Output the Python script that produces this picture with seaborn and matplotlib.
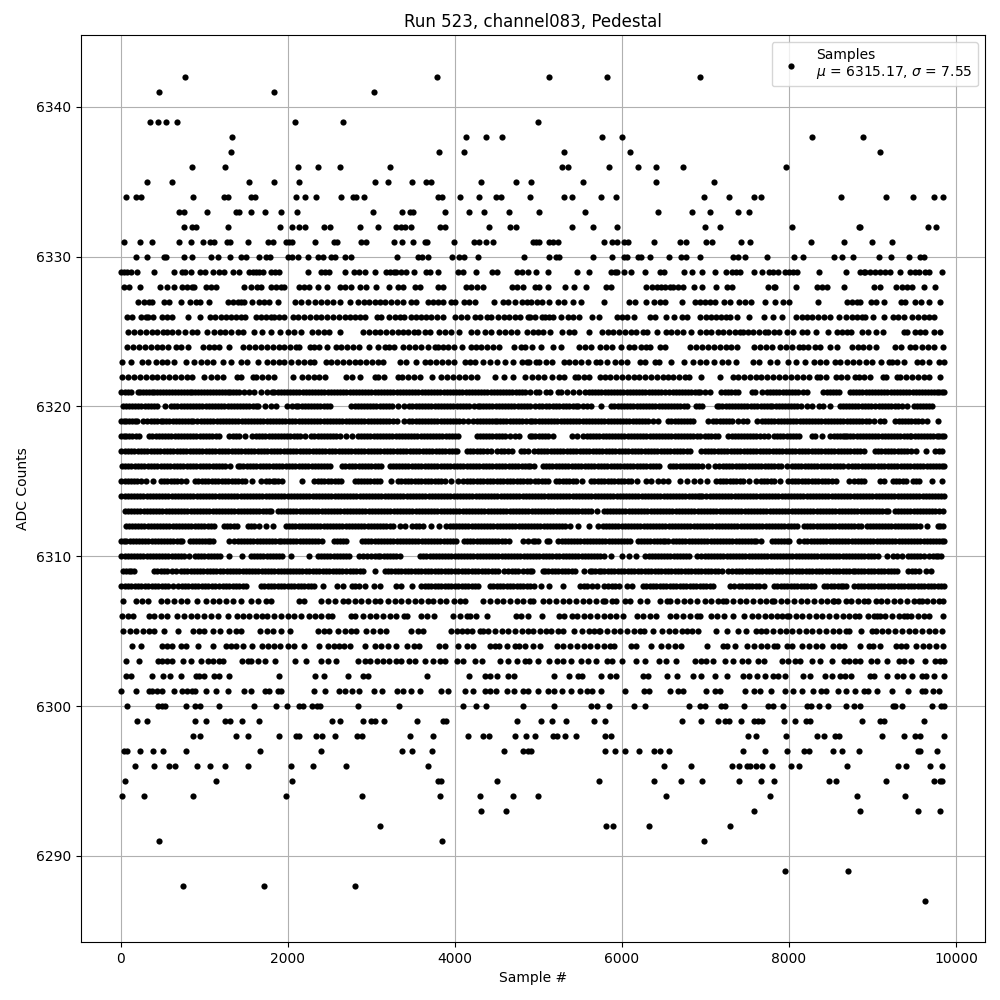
import matplotlib
matplotlib.use("Agg")
import matplotlib.pyplot as plt
import pandas as pd
import seaborn as sns

title = "Run 523, channel083, Pedestal"
x_label = "Sample #"
y_label = "ADC Counts"
legend_label = "Samples\n$\\mu$ = 6315.17, $\\sigma$ = 7.55"

# Sample numbers, one list per ADC level
s6342 = [776, 3788, 5124, 5820, 6936]
s6341 = [464, 1832, 3032]
s6339 = [356, 452, 548, 680, 2084, 2660, 4992]
s6338 = [1328, 4136, 4376, 4568, 5760, 6000, 8280, 8880]
s6337 = [1316, 3812, 4112, 5304, 6096, 9084]
s6336 = [860, 1244, 2120, 2360, 2624, 3224, 5280, 5352, 5844, 6192, 6408, 6732, 7968]
s6335 = [320, 620, 1532, 1832, 2132, 3044, 3200, 3488, 3656, 3716, 4316, 4736, 4912, 5532, 6408, 7104]
s6334 = [60, 184, 240, 872, 1240, 1288, 1560, 1612, 2096, 2204, 2336, 2636, 2780, 2812, 2912, 3804, 3844, 4064, 4292, 4492, 4552, 4900, 5304, 5400, 5748, 5928, 6984, 7284, 7584, 7668, 8616, 9156, 9480, 9732, 9840]
s6333 = [704, 756, 1028, 1380, 1412, 1564, 1724, 1916, 2108, 3020, 3368, 3460, 3500, 3884, 4172, 4352, 4652, 5004, 5556, 6432, 6840, 7056, 7392, 7524]
s6332 = [764, 852, 900, 1280, 1912, 2048, 2140, 2208, 2432, 2504, 2864, 3080, 3300, 3360, 3400, 3476, 3820, 3884, 4412, 4664, 4732, 5400, 5652, 5940, 6996, 7176, 8040, 8832, 8852, 9660, 9756]
s6331 = [40, 236, 380, 704, 840, 992, 1068, 1120, 1272, 1312, 1520, 1764, 1824, 1980, 2020, 2052, 2324, 2552, 2592, 2880, 2936, 3272, 3368, 3500, 3640, 3668, 3992, 4232, 4292, 4368, 4460, 4940, 4972, 5012, 5124, 5180, 5232, 5784, 5880, 5940, 6020, 6068, 6380, 6696, 6772, 7008, 7080, 7428, 7536, 8268, 8652, 8988, 9228]
s6330 = [180, 320, 520, 540, 764, 860, 1076, 1160, 1308, 1436, 1500, 1652, 1740, 1792, 2000, 2052, 2124, 2240, 2360, 2428, 2520, 2560, 2684, 2756, 3308, 3560, 3612, 3680, 3968, 4052, 4108, 4280, 4832, 5124, 5212, 5252, 5652, 5880, 6020, 6060, 6188, 6228, 6336, 6564, 6708, 6772, 6936, 7332, 7384, 7476, 7740, 8064, 8172, 8532, 8628, 8760, 9072, 9216, 9432, 9564, 9612]
s6329 = [0, 40, 80, 120, 200, 404, 644, 732, 772, 840, 948, 1012, 1100, 1172, 1232, 1340, 1420, 1532, 1580, 1620, 1660, 1708, 1800, 1850, 1900, 2248, 2400, 2450, 2500, 2684, 2788, 2850, 2924, 3044, 3172, 3220, 3270, 3300, 3360, 3420, 3512, 3660, 3708, 3804, 4040, 4100, 4256, 4440, 4500, 4740, 4800, 4880, 4968, 5112, 5464, 5604, 5872, 5920, 5940, 6024, 6108, 6276, 6452, 6500, 6744, 6840, 6960, 7112, 7248, 7316, 7370, 7412, 7584, 7680, 7764, 7812, 7872, 7952, 8000, 8052, 8100, 8364, 8684, 8852, 8892, 8912, 8972, 9032, 9092, 9152, 9212, 9324, 9452, 9512, 9552, 9632, 9672, 9828]
s6328 = [40, 100, 228, 476, 560, 644, 732, 790, 850, 880, 1020, 1080, 1140, 1472, 1564, 1628, 1680, 1800, 1860, 1920, 1960, 2132, 2200, 2260, 2360, 2468, 2620, 2680, 2760, 2860, 2932, 3056, 3212, 3320, 3380, 3520, 3588, 3800, 3860, 4128, 4190, 4260, 4340, 4680, 4740, 4820, 4964, 5012, 5112, 5316, 5424, 5564, 5812, 5872, 6292, 6360, 6420, 6472, 6512, 6580, 6612, 6672, 6732, 6864, 6956, 7128, 7252, 7316, 7752, 7820, 7832, 8088, 8332, 8392, 8452, 8652, 9012, 9092, 9276, 9352, 9412, 9472, 9612, 9744]
s6327 = [212, 280, 340, 380, 520, 580, 728, 828, 908, 948, 1060, 1280, 1340, 1400, 1440, 1472, 1572, 1652, 1720, 1780, 1880, 2084, 2160, 2240, 2332, 2400, 2470, 2540, 2628, 2748, 2840, 2908, 2972, 3040, 3100, 3170, 3240, 3310, 3380, 3480, 3532, 3676, 3740, 3800, 3860, 3960, 4004, 4108, 4170, 4240, 4468, 4572, 4640, 4720, 4800, 4860, 4912, 4980, 5040, 5124, 5232, 5312, 5412, 5508, 5788, 6084, 6152, 6288, 6384, 6452, 6512, 6716, 6880, 6940, 6992, 7052, 7112, 7224, 7292, 7404, 7470, 7544, 7712, 7836, 7932, 8004, 8352, 8692, 8750, 8812, 8852, 8980, 9040, 9132, 9340, 9392, 9512, 9580, 9672, 9804]
s6326 = [80, 132, 240, 300, 332, 392, 500, 560, 612, 812, 948, 1068, 1130, 1204, 1260, 1320, 1380, 1440, 1492, 1620, 1680, 1740, 1800, 1840, 1900, 1952, 2060, 2120, 2200, 2270, 2340, 2400, 2470, 2540, 2610, 2680, 2740, 2800, 2860, 2920, 3068, 3120, 3212, 3280, 3340, 3388, 3480, 3540, 3600, 3660, 3720, 3788, 3864, 4000, 4068, 4148, 4240, 4300, 4380, 4432, 4520, 4588, 4650, 4720, 4780, 4880, 4900, 4960, 5040, 5080, 5132, 5180, 5272, 5352, 5420, 5492, 5644, 5724, 5940, 6000, 6060, 6140, 6332, 6400, 6532, 6620, 6724, 6780, 6940, 7000, 7060, 7120, 7180, 7240, 7292, 7380, 7520, 7704, 7812, 7916, 8084, 8150, 8210, 8280, 8350, 8420, 8492, 8592, 8684, 8750, 8810, 8870, 8912, 9000, 9132, 9244, 9300, 9380, 9472, 9540, 9610, 9672, 9732]
s6325 = [92, 160, 230, 300, 370, 440, 510, 560, 612, 692, 772, 860, 920, 1028, 1120, 1188, 1252, 1320, 1404, 1460, 1592, 1688, 1800, 1912, 2000, 2080, 2160, 2288, 2360, 2430, 2500, 2620, 2900, 2970, 3040, 3110, 3180, 3250, 3320, 3380, 3440, 3508, 3560, 3640, 3700, 3812, 3880, 3956, 4052, 4188, 4260, 4360, 4430, 4532, 4600, 4670, 4740, 4860, 4940, 5000, 5060, 5140, 5280, 5364, 5432, 5604, 5760, 5832, 5892, 5960, 6040, 6110, 6172, 6252, 6304, 6420, 6524, 6590, 6660, 6732, 6824, 6932, 7000, 7070, 7152, 7212, 7280, 7350, 7412, 7452, 7510, 7570, 7640, 7712, 7752, 7820, 7880, 7980, 8052, 8152, 8220, 8324, 8472, 8572, 8632, 8692, 8740, 8872, 8940, 9036, 9124, 9372, 9412, 9512, 9572, 9632, 9732, 9804]
s6324 = [80, 150, 220, 290, 360, 440, 500, 570, 660, 720, 812, 992, 1060, 1120, 1180, 1292, 1460, 1532, 1612, 1680, 1750, 1820, 1890, 1960, 2030, 2100, 2140, 2272, 2320, 2372, 2468, 2572, 2640, 2710, 2780, 2850, 2972, 3080, 3160, 3212, 3272, 3380, 3450, 3520, 3600, 3680, 3760, 3800, 3860, 3920, 3992, 4080, 4188, 4248, 4310, 4380, 4460, 4532, 4712, 4788, 4840, 4924, 5032, 5180, 5272, 5484, 5552, 5624, 5740, 5810, 5880, 5990, 6084, 6150, 6232, 6284, 6332, 6452, 6512, 6820, 6890, 6960, 7030, 7100, 7170, 7240, 7310, 7372, 7580, 7652, 7724, 7800, 7892, 7960, 8030, 8124, 8172, 8232, 8312, 8372, 8492, 8572, 8752, 8820, 8890, 8960, 9040, 9272, 9340, 9444, 9512, 9588, 9660, 9730, 9844]
s6323 = [12, 120, 260, 332, 420, 490, 560, 640, 780, 880, 960, 1030, 1100, 1220, 1320, 1440, 1510, 1640, 1748, 1820, 1890, 1960, 2040, 2120, 2200, 2268, 2320, 2460, 2520, 2590, 2660, 2730, 2800, 2870, 2940, 3010, 3080, 3140, 3340, 3420, 3532, 3640, 3708, 3780, 3850, 3920, 3990, 4120, 4180, 4240, 4340, 4420, 4500, 4600, 4700, 4800, 4860, 4892, 4972, 5012, 5090, 5160, 5312, 5364, 5440, 5510, 5590, 5692, 5740, 5820, 5912, 5992, 6060, 6212, 6272, 6392, 6444, 6588, 6744, 6852, 6930, 7010, 7100, 7192, 7268, 7368, 7572, 7640, 7772, 7852, 7992, 8080, 8192, 8300, 8370, 8440, 8552, 8612, 8690, 8770, 8840, 8920, 8990, 9100, 9192, 9232, 9292, 9370, 9532, 9592, 9680, 9792, 9852]
s6322 = [20, 90, 160, 230, 300, 370, 440, 510, 580, 650, 720, 790, 860, 1000, 1080, 1150, 1220, 1388, 1440, 1580, 1620, 1690, 1760, 1830, 2060, 2172, 2240, 2310, 2380, 2450, 2700, 2768, 2860, 3040, 3080, 3150, 3320, 3368, 3440, 3510, 3580, 3732, 3840, 3910, 3980, 4050, 4120, 4190, 4260, 4480, 4592, 4700, 4840, 4924, 5000, 5070, 5160, 5252, 5304, 5444, 5472, 5540, 5600, 5740, 5792, 5860, 5930, 6000, 6070, 6140, 6210, 6280, 6350, 6420, 6490, 6552, 6612, 6680, 6750, 6800, 6944, 7176, 7324, 7390, 7460, 7530, 7600, 7670, 7740, 7810, 7880, 7950, 8020, 8100, 8172, 8244, 8332, 8372, 8440, 8564, 8620, 8692, 8792, 8832, 8900, 8970, 9124, 9164, 9292, 9324, 9400, 9470, 9540, 9610, 9680, 9812]
s6321 = [10, 50, 90, 120, 212, 228, 265, 300, 335, 370, 405, 440, 475, 510, 545, 580, 615, 650, 685, 720, 755, 790, 825, 860, 895, 930, 965, 1000, 1035, 1070, 1105, 1140, 1175, 1210, 1245, 1280, 1315, 1350, 1385, 1420, 1480, 1540, 1600, 1680, 1750, 1812, 1840, 1878, 1915, 1952, 1990, 2028, 2065, 2102, 2140, 2178, 2215, 2252, 2290, 2328, 2365, 2402, 2440, 2478, 2515, 2552, 2590, 2628, 2665, 2702, 2740, 2778, 2815, 2852, 2890, 2928, 2965, 3002, 3040, 3078, 3115, 3152, 3190, 3228, 3265, 3302, 3340, 3378, 3415, 3452, 3490, 3528, 3565, 3602, 3640, 3678, 3715, 3752, 3790, 3828, 3865, 3902, 3940, 3978, 4015, 4052, 4090, 4128, 4165, 4202, 4240, 4278, 4315, 4352, 4390, 4428, 4465, 4502, 4540, 4578, 4615, 4652, 4690, 4728, 4765, 4802, 4840, 4900, 4972, 5012, 5090, 5140, 5232, 5272, 5340, 5420, 5490, 5552, 5604, 5642, 5680, 5718, 5755, 5792, 5830, 5868, 5905, 5942, 5980, 6018, 6055, 6092, 6130, 6168, 6205, 6242, 6280, 6318, 6355, 6392, 6430, 6470, 6510, 6560, 6612, 6644, 6682, 6720, 6758, 6795, 6832, 6870, 6905, 6940, 6995, 7050, 7180, 7232, 7270, 7310, 7348, 7385, 7552, 7592, 7672, 7732, 7770, 7810, 7848, 7885, 7922, 7960, 7998, 8035, 8072, 8110, 8165, 8220, 8412, 8452, 8490, 8530, 8565, 8600, 8724, 8764, 8802, 8840, 8878, 8915, 8952, 8990, 9028, 9065, 9102, 9140, 9178, 9215, 9252, 9290, 9328, 9365, 9402, 9440, 9478, 9515, 9552, 9590, 9628, 9665, 9702, 9740, 9770, 9800, 9828, 9855]
s6320 = [28, 64, 100, 138, 175, 212, 250, 288, 325, 362, 400, 440, 532, 604, 642, 680, 718, 755, 792, 830, 868, 905, 942, 980, 1018, 1055, 1092, 1130, 1168, 1205, 1242, 1280, 1318, 1355, 1392, 1430, 1468, 1505, 1542, 1580, 1615, 1650, 1725, 1800, 1860, 1992, 2046, 2100, 2128, 2166, 2205, 2242, 2280, 2318, 2355, 2392, 2430, 2468, 2505, 2760, 2800, 2838, 2875, 2912, 2950, 2988, 3025, 3062, 3100, 3138, 3175, 3212, 3250, 3320, 3388, 3452, 3492, 3532, 3570, 3608, 3645, 3682, 3720, 3758, 3795, 3832, 3870, 3908, 3945, 3982, 4020, 4058, 4095, 4132, 4170, 4225, 4280, 4300, 4338, 4375, 4412, 4450, 4488, 4525, 4562, 4600, 4638, 4675, 4712, 4750, 4788, 4825, 4862, 4900, 4964, 5002, 5040, 5086, 5132, 5172, 5210, 5250, 5290, 5330, 5370, 5410, 5445, 5480, 5530, 5580, 5632, 5752, 5872, 5910, 5950, 5988, 6025, 6062, 6100, 6138, 6175, 6212, 6250, 6288, 6325, 6362, 6400, 6438, 6475, 6512, 6550, 6588, 6625, 6662, 6700, 6740, 6780, 6884, 6922, 6960, 7132, 7164, 7202, 7240, 7278, 7315, 7352, 7390, 7428, 7465, 7502, 7540, 7580, 7620, 7660, 7700, 7736, 7772, 7800, 7838, 7875, 7912, 7950, 7985, 8020, 8056, 8092, 8140, 8220, 8272, 8364, 8412, 8484, 8604, 8642, 8680, 8718, 8755, 8792, 8830, 8868, 8905, 8942, 8980, 9032, 9072, 9110, 9150, 9188, 9225, 9262, 9300, 9356, 9412, 9492, 9530, 9570, 9605, 9640, 9676, 9712]
s6319 = [10, 40, 70, 105, 140, 170, 200, 272, 320, 360, 400, 440, 480, 508, 546, 585, 622, 660, 698, 735, 772, 810, 840, 870, 920, 960, 998, 1035, 1072, 1110, 1148, 1185, 1222, 1260, 1298, 1335, 1372, 1410, 1448, 1485, 1522, 1560, 1598, 1635, 1672, 1710, 1748, 1785, 1822, 1860, 1898, 1935, 1972, 2012, 2052, 2090, 2130, 2168, 2205, 2242, 2280, 2318, 2355, 2392, 2430, 2468, 2505, 2542, 2580, 2618, 2655, 2692, 2730, 2768, 2805, 2842, 2880, 2918, 2955, 2992, 3030, 3068, 3105, 3142, 3180, 3218, 3255, 3308, 3392, 3452, 3490, 3530, 3568, 3605, 3642, 3680, 3718, 3755, 3792, 3830, 3868, 3905, 3942, 3980, 4015, 4050, 4100, 4160, 4220, 4260, 4298, 4335, 4372, 4410, 4445, 4480, 4510, 4540, 4580, 4618, 4655, 4692, 4730, 4768, 4805, 4852, 4900, 4928, 4965, 5002, 5040, 5078, 5115, 5152, 5190, 5228, 5265, 5302, 5340, 5378, 5415, 5452, 5490, 5528, 5565, 5602, 5640, 5678, 5715, 5752, 5790, 5828, 5865, 5902, 5940, 5978, 6015, 6052, 6090, 6128, 6165, 6202, 6240, 6278, 6315, 6374, 6432, 6552, 6590, 6630, 6668, 6705, 6742, 6780, 6818, 6855, 7032, 7092, 7130, 7170, 7208, 7245, 7282, 7320, 7386, 7452, 7500, 7612, 7672, 7710, 7750, 7788, 7825, 7862, 7900, 7938, 7975, 8012, 8050, 8088, 8125, 8162, 8200, 8238, 8275, 8312, 8350, 8388, 8425, 8462, 8500, 8538, 8575, 8612, 8650, 8688, 8725, 8762, 8800, 8838, 8875, 8918, 8960, 9012, 9092, 9132, 9272, 9312, 9350, 9390, 9428, 9465, 9502, 9540, 9595, 9650, 9780]
s6318 = [10, 40, 70, 105, 140, 180, 220, 340, 380, 420, 458, 495, 532, 570, 608, 645, 682, 720, 758, 795, 832, 870, 908, 945, 982, 1020, 1058, 1095, 1138, 1180, 1300, 1340, 1378, 1415, 1494, 1572, 1620, 1658, 1695, 1732, 1770, 1808, 1845, 1882, 1920, 1958, 1995, 2032, 2070, 2108, 2145, 2212, 2280, 2320, 2358, 2395, 2432, 2470, 2508, 2545, 2582, 2620, 2696, 2772, 2840, 2878, 2915, 2952, 2990, 3028, 3065, 3102, 3140, 3178, 3215, 3252, 3290, 3328, 3365, 3402, 3440, 3478, 3515, 3552, 3590, 3628, 3665, 3702, 3740, 3778, 3815, 3852, 3890, 3928, 3965, 4002, 4040, 4260, 4300, 4338, 4375, 4412, 4450, 4488, 4525, 4562, 4600, 4660, 4720, 4772, 4900, 4928, 4965, 5002, 5040, 5076, 5112, 5180, 5404, 5468, 5532, 5580, 5618, 5655, 5692, 5730, 5768, 5805, 5842, 5880, 5918, 5955, 5992, 6030, 6068, 6105, 6142, 6180, 6218, 6255, 6292, 6330, 6368, 6405, 6442, 6480, 6518, 6555, 6592, 6630, 6668, 6705, 6742, 6780, 6818, 6855, 6894, 6932, 6992, 7030, 7070, 7108, 7145, 7272, 7312, 7348, 7385, 7422, 7460, 7498, 7535, 7572, 7610, 7655, 7700, 7752, 7820, 7858, 7895, 7932, 7970, 8008, 8045, 8082, 8120, 8272, 8312, 8390, 8492, 8532, 8570, 8610, 8642, 8672, 8692, 8730, 8770, 8808, 8845, 8882, 8920, 8958, 8995, 9032, 9070, 9108, 9145, 9182, 9220, 9258, 9295, 9332, 9370, 9408, 9444, 9464, 9502, 9540, 9578, 9615, 9652, 9690, 9728, 9765, 9798, 9830, 9855]
s6317 = [10, 50, 90, 128, 165, 205, 245, 282, 320, 360, 400, 438, 475, 515, 555, 592, 630, 670, 710, 748, 785, 825, 865, 902, 940, 980, 1020, 1058, 1095, 1135, 1175, 1212, 1250, 1290, 1330, 1368, 1405, 1445, 1485, 1522, 1560, 1600, 1640, 1678, 1715, 1755, 1795, 1832, 1870, 1910, 1950, 1988, 2025, 2065, 2105, 2142, 2180, 2220, 2260, 2298, 2335, 2375, 2415, 2452, 2490, 2530, 2570, 2608, 2645, 2685, 2725, 2762, 2800, 2840, 2880, 2918, 2955, 2995, 3035, 3072, 3110, 3150, 3190, 3228, 3265, 3305, 3345, 3382, 3420, 3460, 3500, 3538, 3575, 3615, 3655, 3692, 3730, 3770, 3810, 3848, 3885, 3925, 3965, 4000, 4030, 4140, 4180, 4220, 4260, 4300, 4340, 4380, 4430, 4510, 4550, 4590, 4640, 4690, 4790, 4830, 4870, 4950, 4990, 5030, 5068, 5105, 5145, 5185, 5222, 5260, 5300, 5340, 5378, 5415, 5455, 5495, 5532, 5570, 5610, 5650, 5688, 5725, 5765, 5805, 5842, 5880, 5920, 5960, 5998, 6035, 6075, 6115, 6152, 6190, 6230, 6270, 6308, 6345, 6385, 6425, 6462, 6500, 6540, 6580, 6618, 6655, 6695, 6735, 6775, 6815, 6950, 6990, 7030, 7068, 7105, 7145, 7185, 7222, 7260, 7300, 7340, 7378, 7415, 7455, 7495, 7532, 7570, 7610, 7650, 7688, 7725, 7765, 7805, 7842, 7880, 7920, 7960, 7998, 8035, 8075, 8115, 8152, 8190, 8230, 8270, 8308, 8345, 8385, 8425, 8462, 8500, 8540, 8580, 8618, 8655, 8695, 8735, 8772, 8810, 8852, 8895, 9030, 9068, 9105, 9145, 9185, 9222, 9260, 9300, 9340, 9378, 9415, 9465, 9515, 9640, 9750, 9790, 9830]
s6316 = [15, 52, 90, 130, 170, 208, 245, 285, 325, 362, 400, 440, 480, 518, 555, 595, 635, 672, 710, 750, 790, 828, 865, 905, 945, 982, 1020, 1060, 1100, 1138, 1175, 1212, 1250, 1315, 1400, 1430, 1470, 1510, 1548, 1585, 1625, 1665, 1702, 1740, 1780, 1820, 1858, 1895, 1935, 1975, 2012, 2050, 2090, 2130, 2168, 2205, 2245, 2285, 2322, 2360, 2400, 2440, 2475, 2510, 2650, 2690, 2730, 2770, 2810, 2848, 2885, 2925, 2965, 3002, 3040, 3080, 3120, 3225, 3258, 3290, 3328, 3365, 3405, 3445, 3482, 3520, 3560, 3600, 3638, 3675, 3715, 3755, 3792, 3830, 3870, 3910, 3948, 3985, 4025, 4065, 4102, 4140, 4180, 4220, 4258, 4295, 4335, 4375, 4412, 4450, 4490, 4530, 4568, 4605, 4645, 4685, 4722, 4760, 4800, 4840, 4870, 4900, 4950, 5050, 5090, 5130, 5168, 5205, 5245, 5285, 5322, 5360, 5400, 5440, 5478, 5515, 5555, 5595, 5632, 5670, 5710, 5750, 5788, 5825, 5865, 5905, 5942, 5980, 6020, 6060, 6098, 6135, 6175, 6215, 6252, 6290, 6330, 6370, 6405, 6440, 6580, 6615, 6650, 6690, 6730, 6765, 6800, 6838, 6875, 6915, 6955, 7030, 7115, 7160, 7205, 7242, 7280, 7320, 7360, 7398, 7435, 7475, 7515, 7552, 7590, 7630, 7670, 7708, 7745, 7785, 7825, 7862, 7900, 7970, 8030, 8070, 8110, 8148, 8185, 8225, 8265, 8302, 8340, 8380, 8420, 8458, 8495, 8535, 8575, 8612, 8650, 8710, 8750, 8790, 8830, 8870, 8910, 8950, 8985, 9020, 9060, 9100, 9140, 9180, 9218, 9255, 9295, 9335, 9372, 9410, 9450, 9490, 9528, 9565, 9605, 9645, 9682, 9720, 9760, 9800, 9830, 9855]
s6315 = [10, 48, 85, 122, 160, 200, 240, 300, 384, 480, 520, 560, 600, 640, 680, 720, 780, 890, 930, 970, 1010, 1050, 1090, 1130, 1170, 1210, 1250, 1290, 1330, 1370, 1410, 1450, 1490, 1572, 1680, 1740, 1780, 1820, 1850, 1880, 1930, 2168, 2320, 2360, 2400, 2440, 2480, 2520, 2560, 2600, 2640, 2800, 2840, 2880, 2915, 2950, 2990, 3030, 3070, 3110, 3232, 3320, 3360, 3400, 3440, 3480, 3520, 3560, 3600, 3640, 3680, 3720, 3760, 3800, 3840, 3880, 3950, 4040, 4100, 4140, 4180, 4220, 4260, 4300, 4340, 4380, 4420, 4460, 4500, 4540, 4580, 4620, 4660, 4700, 4740, 4780, 4820, 4860, 4900, 4960, 5000, 5040, 5080, 5120, 5210, 5250, 5290, 5330, 5370, 5410, 5450, 5520, 5630, 5670, 5710, 5750, 5790, 5830, 5870, 5910, 5950, 5990, 6030, 6070, 6110, 6180, 6290, 6350, 6430, 6490, 6552, 6700, 6780, 6860, 6930, 7020, 7130, 7170, 7210, 7250, 7290, 7330, 7370, 7410, 7450, 7520, 7600, 7660, 7700, 7740, 7780, 7820, 7890, 7990, 8030, 8070, 8110, 8150, 8190, 8230, 8270, 8310, 8350, 8390, 8430, 8470, 8515, 8560, 8712, 8780, 8820, 8860, 8900, 9090, 9140, 9240, 9280, 9320, 9360, 9400, 9480, 9515, 9550, 9708, 9832]
s6314 = [10, 48, 85, 122, 160, 198, 235, 272, 310, 348, 385, 422, 460, 498, 535, 572, 610, 648, 685, 722, 760, 798, 835, 872, 910, 948, 985, 1022, 1060, 1098, 1135, 1172, 1210, 1248, 1285, 1322, 1360, 1398, 1435, 1472, 1510, 1548, 1585, 1622, 1660, 1698, 1735, 1772, 1810, 1848, 1885, 1922, 1960, 1998, 2035, 2072, 2110, 2148, 2185, 2222, 2260, 2298, 2335, 2372, 2410, 2448, 2485, 2522, 2560, 2598, 2635, 2672, 2710, 2748, 2785, 2822, 2860, 2898, 2935, 2972, 3010, 3048, 3085, 3122, 3160, 3198, 3235, 3272, 3310, 3348, 3385, 3422, 3460, 3498, 3535, 3572, 3610, 3648, 3685, 3722, 3760, 3798, 3835, 3872, 3910, 3948, 3985, 4022, 4060, 4098, 4135, 4172, 4210, 4248, 4285, 4322, 4360, 4398, 4435, 4472, 4510, 4548, 4585, 4622, 4660, 4698, 4735, 4772, 4810, 4848, 4885, 4922, 4960, 4998, 5035, 5072, 5110, 5148, 5185, 5222, 5260, 5298, 5335, 5372, 5410, 5448, 5485, 5522, 5560, 5598, 5635, 5672, 5710, 5748, 5785, 5822, 5860, 5898, 5935, 5972, 6010, 6048, 6085, 6122, 6160, 6198, 6235, 6272, 6310, 6348, 6385, 6422, 6460, 6498, 6535, 6572, 6610, 6648, 6685, 6722, 6760, 6798, 6835, 6872, 6910, 6935, 6960, 7010, 7048, 7085, 7122, 7160, 7198, 7235, 7272, 7310, 7348, 7385, 7422, 7460, 7498, 7535, 7572, 7610, 7648, 7685, 7722, 7760, 7798, 7835, 7872, 7910, 7948, 7985, 8022, 8060, 8098, 8135, 8172, 8210, 8248, 8285, 8322, 8360, 8398, 8435, 8472, 8510, 8548, 8585, 8622, 8660, 8698, 8735, 8772, 8810, 8848, 8885, 8922, 8960, 8998, 9035, 9072, 9110, 9148, 9185, 9222, 9260, 9298, 9335, 9372, 9410, 9448, 9485, 9522, 9560, 9598, 9635, 9672, 9710, 9748, 9785, 9820, 9855]
s6313 = [50, 88, 125, 162, 200, 238, 275, 312, 350, 388, 425, 462, 500, 538, 575, 612, 650, 688, 725, 762, 800, 838, 875, 912, 950, 988, 1025, 1062, 1100, 1138, 1175, 1212, 1250, 1288, 1325, 1362, 1400, 1438, 1475, 1512, 1550, 1588, 1625, 1662, 1700, 1738, 1775, 1800, 1880, 1918, 1955, 1992, 2030, 2068, 2105, 2142, 2180, 2218, 2255, 2292, 2330, 2368, 2405, 2442, 2480, 2518, 2555, 2592, 2630, 2668, 2705, 2742, 2780, 2818, 2855, 2892, 2930, 2968, 3005, 3042, 3080, 3118, 3155, 3192, 3230, 3268, 3305, 3342, 3380, 3418, 3455, 3492, 3530, 3568, 3605, 3642, 3680, 3718, 3755, 3792, 3830, 3868, 3905, 3942, 3980, 4018, 4055, 4092, 4130, 4168, 4205, 4242, 4280, 4318, 4355, 4392, 4430, 4468, 4505, 4542, 4580, 4618, 4655, 4692, 4730, 4768, 4805, 4842, 4880, 4918, 4955, 4992, 5030, 5068, 5105, 5142, 5180, 5218, 5255, 5292, 5330, 5368, 5405, 5442, 5480, 5518, 5555, 5592, 5630, 5705, 5780, 5818, 5855, 5892, 5930, 5968, 6005, 6042, 6080, 6118, 6155, 6192, 6230, 6268, 6305, 6342, 6380, 6418, 6455, 6492, 6530, 6568, 6605, 6642, 6680, 6718, 6755, 6792, 6830, 6868, 6905, 6942, 6980, 7018, 7055, 7092, 7130, 7168, 7205, 7242, 7280, 7318, 7355, 7392, 7430, 7468, 7505, 7542, 7580, 7618, 7655, 7692, 7730, 7768, 7805, 7842, 7880, 7918, 7955, 7992, 8030, 8068, 8105, 8142, 8180, 8218, 8255, 8292, 8330, 8368, 8405, 8442, 8480, 8518, 8555, 8592, 8630, 8668, 8705, 8742, 8780, 8818, 8855, 8892, 8930, 8968, 9005, 9042, 9080, 9118, 9155, 9180, 9265, 9302, 9340, 9378, 9415, 9452, 9490, 9528, 9565, 9602, 9640, 9678, 9715, 9752, 9790, 9840]
s6312 = [60, 98, 135, 172, 210, 248, 285, 322, 360, 398, 435, 472, 510, 548, 585, 622, 660, 698, 735, 772, 810, 848, 885, 922, 960, 1000, 1040, 1080, 1120, 1240, 1278, 1315, 1352, 1390, 1520, 1560, 1600, 1660, 1740, 1820, 1980, 2018, 2055, 2092, 2130, 2168, 2205, 2242, 2280, 2318, 2355, 2392, 2430, 2468, 2505, 2542, 2580, 2618, 2655, 2692, 2730, 2768, 2805, 2842, 2880, 2918, 2955, 2992, 3030, 3068, 3105, 3142, 3180, 3220, 3260, 3340, 3400, 3490, 3530, 3570, 3620, 3710, 3812, 3900, 3938, 3975, 4012, 4050, 4088, 4125, 4162, 4200, 4238, 4275, 4312, 4350, 4388, 4425, 4462, 4500, 4538, 4575, 4612, 4650, 4688, 4725, 4762, 4800, 4840, 4880, 4915, 4950, 4988, 5025, 5062, 5100, 5138, 5175, 5212, 5250, 5285, 5320, 5380, 5480, 5600, 5710, 5770, 5808, 5845, 5882, 5920, 5958, 5995, 6032, 6070, 6108, 6145, 6182, 6220, 6258, 6295, 6332, 6370, 6408, 6445, 6482, 6520, 6558, 6595, 6632, 6670, 6708, 6745, 6782, 6820, 6858, 6895, 6932, 6970, 7008, 7045, 7082, 7120, 7158, 7195, 7232, 7270, 7308, 7345, 7382, 7420, 7458, 7495, 7532, 7570, 7608, 7645, 7682, 7720, 7758, 7795, 7832, 7870, 7908, 7945, 7982, 8020, 8055, 8090, 8180, 8218, 8255, 8292, 8330, 8368, 8405, 8442, 8480, 8518, 8555, 8592, 8630, 8668, 8705, 8742, 8780, 8820, 8860, 8930, 8965, 9000, 9038, 9075, 9112, 9150, 9188, 9225, 9262, 9300, 9338, 9375, 9412, 9450, 9488, 9525, 9570, 9652, 9780, 9810, 9840]
s6311 = [0, 35, 70, 108, 145, 182, 220, 258, 295, 332, 370, 408, 445, 482, 520, 558, 595, 632, 670, 705, 740, 830, 865, 900, 940, 980, 1010, 1040, 1075, 1110, 1300, 1360, 1400, 1440, 1478, 1515, 1552, 1590, 1628, 1665, 1702, 1740, 1778, 1815, 1852, 1890, 1920, 1950, 1990, 2030, 2068, 2105, 2142, 2180, 2218, 2255, 2292, 2330, 2368, 2405, 2550, 2588, 2625, 2662, 2700, 2890, 2928, 2965, 3002, 3040, 3078, 3115, 3152, 3190, 3228, 3265, 3302, 3340, 3378, 3415, 3452, 3490, 3528, 3565, 3602, 3640, 3678, 3715, 3752, 3790, 3828, 3865, 3902, 3940, 3975, 4010, 4110, 4148, 4185, 4222, 4260, 4298, 4335, 4372, 4410, 4448, 4485, 4522, 4560, 4605, 4650, 4820, 4880, 4930, 4965, 5000, 5100, 5130, 5240, 5278, 5315, 5352, 5390, 5428, 5465, 5502, 5540, 5578, 5615, 5652, 5690, 5728, 5765, 5802, 5840, 5878, 5915, 5952, 5990, 6025, 6060, 6092, 6190, 6228, 6265, 6302, 6340, 6378, 6415, 6452, 6490, 6520, 6550, 6610, 6648, 6685, 6722, 6760, 6798, 6835, 6872, 6910, 6948, 6985, 7022, 7060, 7098, 7135, 7172, 7210, 7248, 7285, 7322, 7360, 7398, 7435, 7472, 7510, 7548, 7585, 7605, 7670, 7790, 7828, 7865, 7902, 7940, 7970, 8000, 8120, 8180, 8220, 8260, 8298, 8335, 8372, 8410, 8448, 8485, 8522, 8560, 8598, 8635, 8672, 8710, 8748, 8785, 8822, 8860, 8898, 8935, 8972, 9010, 9048, 9085, 9122, 9160, 9198, 9235, 9272, 9310, 9348, 9385, 9422, 9460, 9498, 9535, 9572, 9610, 9648, 9685, 9722, 9760, 9798, 9835, 9855]
s6310 = [10, 48, 85, 122, 160, 198, 235, 272, 310, 348, 385, 422, 460, 498, 535, 572, 610, 648, 685, 722, 760, 820, 890, 928, 965, 1002, 1040, 1078, 1115, 1152, 1190, 1300, 1452, 1560, 1598, 1635, 1672, 1710, 1748, 1785, 1822, 1860, 1898, 1935, 2040, 2260, 2360, 2398, 2435, 2472, 2510, 2548, 2585, 2622, 2660, 2698, 2735, 2850, 2900, 2950, 3000, 3040, 3075, 3110, 3148, 3185, 3222, 3260, 3300, 3340, 3585, 3622, 3660, 3698, 3735, 3772, 3810, 3848, 3885, 3922, 3960, 3998, 4035, 4072, 4110, 4148, 4185, 4222, 4260, 4298, 4335, 4372, 4410, 4448, 4485, 4522, 4560, 4598, 4635, 4672, 4710, 4748, 4785, 4822, 4860, 4898, 4935, 4972, 5010, 5050, 5090, 5125, 5160, 5205, 5250, 5290, 5330, 5368, 5405, 5442, 5480, 5518, 5555, 5592, 5630, 5665, 5700, 5740, 5780, 5872, 6000, 6084, 6164, 6280, 6318, 6355, 6392, 6430, 6468, 6505, 6542, 6580, 6618, 6655, 6692, 6730, 6768, 6805, 6900, 6945, 6990, 7028, 7065, 7102, 7140, 7178, 7215, 7252, 7290, 7328, 7365, 7402, 7440, 7478, 7515, 7552, 7590, 7628, 7665, 7702, 7740, 7778, 7815, 7852, 7890, 7928, 7965, 8002, 8040, 8078, 8115, 8152, 8190, 8228, 8265, 8302, 8340, 8378, 8415, 8452, 8490, 8528, 8565, 8602, 8640, 8678, 8715, 8752, 8790, 8828, 8865, 8902, 8940, 8978, 9015, 9070, 9168, 9240, 9292, 9352, 9420, 9458, 9495, 9532, 9570, 9610, 9680, 9718, 9755, 9788, 9820]
s6309 = [30, 65, 100, 130, 160, 400, 440, 480, 520, 560, 620, 668, 720, 760, 800, 840, 880, 915, 950, 990, 1030, 1065, 1100, 1145, 1190, 1230, 1270, 1308, 1345, 1382, 1420, 1460, 1500, 1538, 1575, 1612, 1650, 1688, 1725, 1762, 1800, 1840, 1880, 1915, 1950, 1990, 2030, 2065, 2100, 2135, 2170, 2215, 2260, 2300, 2340, 2380, 2420, 2460, 2500, 2540, 2580, 2615, 2650, 2695, 2740, 2780, 2820, 2860, 2900, 3040, 3160, 3200, 3240, 3280, 3320, 3360, 3400, 3440, 3480, 3520, 3560, 3600, 3640, 3680, 3720, 3760, 3800, 3840, 3880, 3920, 3960, 4000, 4040, 4080, 4120, 4160, 4200, 4240, 4280, 4320, 4360, 4400, 4440, 4480, 4520, 4590, 4640, 4680, 4720, 4760, 4820, 4860, 4900, 4924, 5052, 5085, 5120, 5160, 5200, 5240, 5280, 5320, 5360, 5400, 5440, 5540, 5612, 5640, 5680, 5720, 5755, 5790, 5830, 5870, 5910, 5950, 5990, 6030, 6070, 6110, 6150, 6190, 6230, 6270, 6310, 6350, 6390, 6430, 6470, 6510, 6550, 6590, 6630, 6670, 6710, 6750, 6790, 6830, 6870, 6910, 6950, 6990, 7030, 7070, 7110, 7150, 7200, 7272, 7320, 7360, 7400, 7440, 7480, 7520, 7560, 7600, 7640, 7680, 7720, 7760, 7800, 7840, 7880, 7920, 7960, 8000, 8040, 8080, 8120, 8160, 8200, 8240, 8280, 8320, 8360, 8400, 8440, 8480, 8520, 8560, 8600, 8640, 8680, 8720, 8760, 8795, 8830, 8865, 8900, 8940, 8980, 9020, 9060, 9100, 9140, 9180, 9220, 9255, 9290, 9420, 9470, 9510, 9560, 9640, 9700]
s6308 = [10, 50, 90, 130, 170, 210, 250, 290, 330, 370, 410, 450, 490, 530, 570, 630, 690, 730, 770, 810, 850, 890, 930, 970, 1010, 1050, 1090, 1135, 1180, 1220, 1260, 1300, 1340, 1380, 1420, 1460, 1500, 1680, 1720, 1760, 1800, 1840, 1880, 1920, 1960, 2000, 2040, 2080, 2120, 2160, 2200, 2240, 2280, 2320, 2428, 2590, 2660, 2770, 2810, 2850, 2920, 3030, 3110, 3290, 3360, 3490, 3590, 3640, 3680, 3720, 3760, 3800, 3840, 3880, 3920, 3960, 4000, 4040, 4080, 4120, 4160, 4200, 4240, 4280, 4420, 4460, 4500, 4540, 4580, 4620, 4660, 4700, 4740, 4780, 4820, 4860, 4900, 4950, 5030, 5130, 5300, 5500, 5540, 5580, 5640, 5700, 5790, 5835, 5880, 5920, 5960, 6060, 6120, 6250, 6292, 6330, 6370, 6410, 6450, 6490, 6530, 6570, 6610, 6650, 6690, 6730, 6770, 6810, 6850, 6890, 6930, 6970, 7010, 7050, 7090, 7290, 7345, 7400, 7440, 7480, 7520, 7560, 7600, 7640, 7704, 7820, 7860, 7900, 7940, 7980, 8020, 8060, 8100, 8140, 8180, 8220, 8260, 8300, 8420, 8460, 8500, 8540, 8580, 8620, 8650, 8680, 8780, 8820, 8860, 8900, 8940, 8980, 9020, 9060, 9100, 9140, 9180, 9220, 9260, 9300, 9340, 9380, 9420, 9460, 9500, 9540, 9580, 9620, 9660, 9700, 9740, 9780, 9820, 9855]
s6307 = [28, 180, 260, 330, 480, 560, 640, 720, 800, 920, 1020, 1100, 1180, 1260, 1340, 1440, 1560, 1640, 1740, 1800, 2130, 2190, 2400, 2480, 2560, 2660, 2720, 2800, 2880, 2960, 3040, 3100, 3200, 3280, 3360, 3440, 3520, 3600, 3680, 3740, 3820, 3900, 3990, 4060, 4120, 4340, 4420, 4500, 4580, 4660, 4740, 4820, 4900, 4932, 5052, 5130, 5210, 5290, 5370, 5450, 5530, 5610, 5690, 5770, 5800, 5880, 5930, 6040, 6100, 6220, 6300, 6450, 6540, 6580, 6660, 6740, 6810, 6900, 6990, 7060, 7150, 7210, 7250, 7330, 7410, 7490, 7570, 7650, 7730, 7800, 7820, 7900, 7980, 8060, 8140, 8220, 8300, 8380, 8460, 8520, 8540, 8590, 8680, 8740, 8820, 8900, 8950, 9040, 9100, 9170, 9250, 9330, 9410, 9490, 9550, 9590, 9650, 9720, 9800, 9840]
s6306 = [20, 90, 150, 340, 400, 480, 560, 670, 760, 840, 920, 1000, 1080, 1170, 1280, 1390, 1460, 1540, 1620, 1690, 1750, 1830, 1920, 2000, 2080, 2160, 2260, 2330, 2400, 2480, 2530, 2760, 2800, 2900, 2980, 3060, 3140, 3220, 3300, 3390, 3430, 3600, 3670, 3752, 3980, 4060, 4140, 4180, 4256, 4380, 4730, 4790, 4880, 5044, 5250, 5310, 5400, 5460, 5540, 5620, 5700, 5780, 5860, 5930, 6010, 6180, 6250, 6330, 6408, 6576, 6650, 6730, 6810, 6900, 6940, 7060, 7140, 7220, 7324, 7464, 7552, 7630, 7710, 7780, 7850, 7920, 7980, 8000, 8080, 8160, 8240, 8320, 8400, 8480, 8560, 8640, 8720, 8790, 8840, 8940, 9012, 9050, 9092, 9150, 9230, 9310, 9370, 9410, 9460, 9540, 9620, 9680, 9840]
s6305 = [30, 110, 190, 270, 340, 400, 520, 688, 868, 940, 1000, 1100, 1184, 1292, 1380, 1440, 1664, 1752, 1828, 1916, 2024, 2360, 2430, 2490, 2600, 2680, 2760, 2820, 2940, 3020, 3100, 3176, 3480, 3560, 3620, 3960, 4020, 4090, 4150, 4210, 4300, 4340, 4400, 4480, 4560, 4640, 4720, 4800, 4880, 4932, 5020, 5092, 5150, 5230, 5300, 5432, 5524, 5600, 5660, 5720, 5740, 5820, 5900, 5980, 6060, 6140, 6220, 6260, 6370, 6484, 6560, 6640, 6720, 6780, 6840, 6910, 7124, 7252, 7384, 7480, 7600, 7660, 7730, 7810, 7890, 7960, 8040, 8120, 8200, 8280, 8360, 8440, 8520, 8600, 8680, 8712, 8856, 8990, 9040, 9110, 9190, 9270, 9350, 9430, 9510, 9590, 9670, 9750, 9830]
s6304 = [132, 240, 500, 560, 620, 720, 780, 924, 1100, 1260, 1320, 1380, 1460, 1572, 1690, 1760, 1830, 1910, 2000, 2070, 2200, 2380, 2480, 2550, 2610, 2670, 2744, 2924, 3040, 3120, 3200, 3290, 3428, 3510, 3572, 3812, 3880, 4040, 4148, 4220, 4420, 4480, 4532, 4628, 4720, 4770, 4844, 4932, 5020, 5220, 5300, 5380, 5460, 5540, 5620, 5700, 5780, 5860, 5900, 6110, 6170, 6352, 6470, 6550, 6630, 6710, 7012, 7212, 7252, 7348, 7500, 7580, 7660, 7740, 7820, 7860, 7980, 8030, 8160, 8240, 8320, 8400, 8530, 8600, 8660, 8844, 8960, 9010, 9092, 9280, 9340, 9400, 9520, 9600, 9680, 9760, 9840]
s6303 = [68, 224, 452, 500, 552, 620, 752, 848, 968, 1040, 1108, 1180, 1220, 1452, 1520, 1560, 1640, 1724, 1844, 2084, 2216, 2396, 2480, 2572, 2840, 2920, 2984, 3068, 3140, 3212, 3292, 3356, 3452, 3520, 3640, 3740, 3820, 3888, 4028, 4092, 4240, 4320, 4540, 4640, 4740, 4840, 4892, 4992, 5124, 5220, 5292, 5392, 5512, 5596, 5684, 5820, 5884, 6000, 6172, 6272, 6444, 6532, 6652, 6872, 6952, 7004, 7092, 7228, 7332, 7432, 7512, 7632, 7704, 7912, 7992, 8072, 8132, 8272, 8372, 8512, 8652, 8720, 8792, 8852, 8980, 9052, 9172, 9312, 9380, 9460, 9628, 9752, 9812, 9850]
s6302 = [60, 120, 380, 512, 596, 728, 900, 940, 1004, 1120, 1172, 1292, 1892, 2332, 2432, 2720, 2900, 2960, 3668, 4172, 4360, 4420, 4500, 4640, 4712, 5184, 5364, 5472, 5524, 5748, 5852, 5932, 6252, 6312, 6540, 6660, 6852, 6952, 7112, 7260, 7452, 7524, 7612, 7716, 7812, 7872, 7948, 8172, 8252, 8432, 8512, 8612, 8672, 8736, 8964, 9020, 9172, 9292, 9364, 9472, 9592, 9640, 9732, 9852]
s6301 = [0, 188, 340, 380, 440, 500, 640, 732, 800, 852, 892, 1016, 1140, 1280, 1480, 1560, 1728, 1772, 1880, 1924, 2312, 2444, 2612, 2680, 2768, 2852, 3028, 3128, 3312, 3380, 3472, 3584, 3840, 3920, 4120, 4220, 4360, 4420, 4492, 4620, 4712, 4812, 4880, 5000, 5112, 5192, 5284, 5392, 5496, 5580, 5636, 5748, 6036, 6260, 6324, 6576, 6672, 6732, 7008, 7112, 7172, 7472, 7580, 7652, 7788, 7952, 8052, 8152, 8292, 8380, 8444, 8580, 8684, 8792, 8892, 8940, 9048, 9228, 9420, 9592, 9632, 9724, 9792]
s6300 = [80, 452, 500, 528, 780, 892, 948, 1172, 1592, 1856, 1988, 2132, 2188, 2288, 2348, 2392, 2840, 3332, 4092, 4256, 4376, 4820, 5184, 5628, 5704, 5844, 6144, 6276, 6804, 6936, 6988, 7184, 7232, 7464, 7752, 7812, 7932, 8220, 8264, 8364, 8472, 8676, 8772, 8852, 9244, 9272, 9356, 9708, 9820, 9850]
s6299 = [200, 320, 892, 1016, 1244, 1312, 1448, 1652, 2528, 2624, 2900, 2996, 3044, 3152, 3548, 3860, 3892, 4748, 5028, 5160, 5328, 5664, 5796, 6720, 6948, 7152, 7232, 7280, 7428, 7580, 7632, 7676, 7944, 8076, 8204, 8252, 8868, 9092, 9140, 9612]
s6298 = [872, 956, 1376, 1520, 1892, 2100, 2132, 2336, 2408, 2564, 2828, 2888, 3464, 3740, 4160, 4332, 4412, 4724, 4856, 4956, 5172, 5220, 5316, 5448, 5796, 5872, 7512, 7608, 7968, 8340, 8424, 8552, 8592, 9108, 9372, 9512, 9572, 9852]
s6297 = [44, 76, 236, 392, 512, 788, 1664, 2396, 3368, 3488, 3728, 4592, 4820, 4880, 4912, 5796, 5916, 6036, 6204, 6384, 6456, 6564, 7452, 7716, 7980, 8184, 8244, 8520, 8628, 8832, 9540, 9572, 9768]
s6296 = [176, 404, 580, 652, 920, 1068, 1244, 1520, 2036, 2300, 2696, 3680, 6504, 6828, 7320, 7404, 7492, 7532, 7600, 7680, 7800, 8028, 8124, 8688, 9300, 9396, 9684, 9828]
s6295 = [56, 1136, 2048, 3800, 3840, 4508, 5724, 6384, 6708, 6960, 7404, 7668, 7824, 8480, 8556, 9156, 9732, 9804, 9836]
s6294 = [20, 284, 872, 1976, 2888, 3824, 4304, 4700, 4992, 6528, 7776, 8808, 9384]
s6293 = [4316, 4616, 7584, 8844, 9540, 9804]
s6292 = [3104, 5808, 5892, 6324, 7296]
s6291 = [464, 3848, 6984]
s6289 = [7956, 8700]
s6288 = [752, 1712, 2804]
s6287 = [9624]

adc_levels = [6342, 6341, 6339, 6338, 6337, 6336, 6335, 6334, 6333, 6332, 6331, 6330, 6329, 6328, 6327, 6326, 6325,
              6324, 6323, 6322, 6321, 6320, 6319, 6318, 6317, 6316, 6315, 6314, 6313, 6312, 6311, 6310, 6309, 6308,
              6307, 6306, 6305, 6304, 6303, 6302, 6301, 6300, 6299, 6298, 6297, 6296, 6295, 6294, 6293, 6292, 6291,
              6289, 6288, 6287]
sample_rows = [s6342, s6341, s6339, s6338, s6337, s6336, s6335, s6334, s6333, s6332, s6331, s6330, s6329, s6328, s6327,
               s6326, s6325, s6324, s6323, s6322, s6321, s6320, s6319, s6318, s6317, s6316, s6315, s6314, s6313, s6312,
               s6311, s6310, s6309, s6308, s6307, s6306, s6305, s6304, s6303, s6302, s6301, s6300, s6299, s6298, s6297,
               s6296, s6295, s6294, s6293, s6292, s6291, s6289, s6288, s6287]

rows = [(s, lvl) for lvl, samples in zip(adc_levels, sample_rows) for s in samples]
df = pd.DataFrame(rows, columns=["sample", "adc"])

fig, ax = plt.subplots(figsize=(10, 10), dpi=100)
sns.scatterplot(data=df, x="sample", y="adc", ax=ax, color="black", marker="o", s=20,
                linewidth=0, label=legend_label)
ax.set_axisbelow(True)
ax.grid(True)
ax.set_xlim(-480, 10345)
ax.set_ylim(6284.25, 6344.8)
ax.set_title(title)
ax.set_xlabel(x_label)
ax.set_ylabel(y_label)
ax.legend(loc="upper right")
fig.subplots_adjust(left=0.0805, right=0.985, top=0.965, bottom=0.058)
fig.savefig("out.png", dpi=100)
